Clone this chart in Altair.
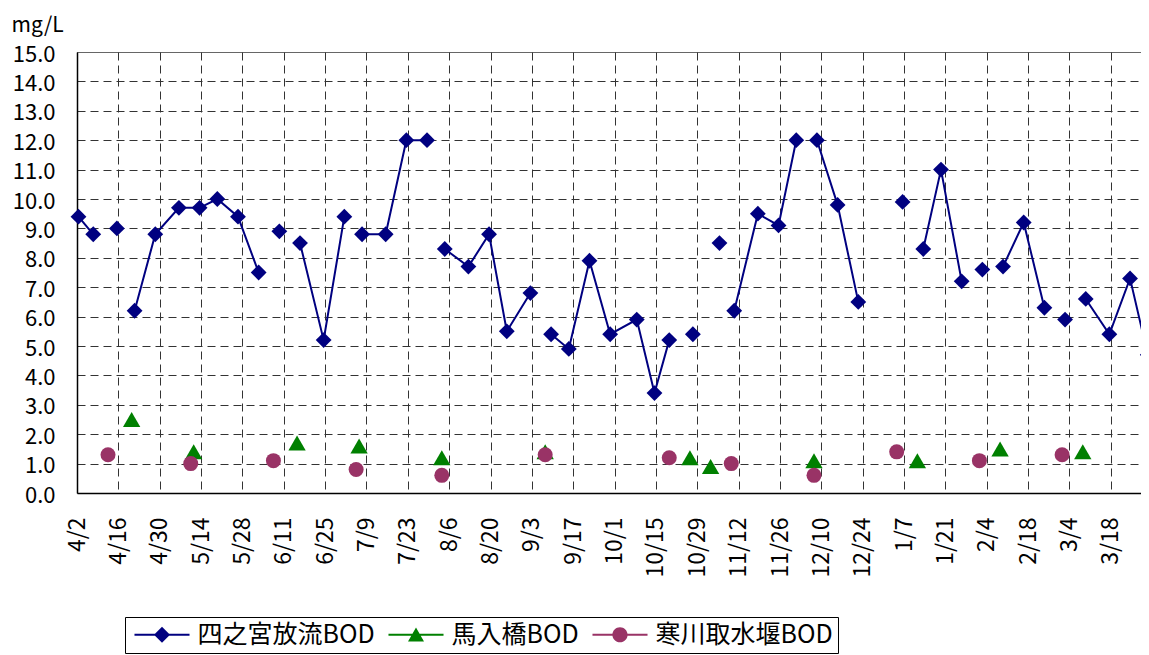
import altair as alt
import pandas as pd

# ---------------- data ----------------
series_names = ["四之宮放流BOD", "馬入橋BOD", "寒川取水堰BOD"]
series_colors = ["#000080", "#008000", "#993366"]

# None = no 四之宮 measurement on that row (line breaks there)
shinomiya_dates = ["4/2", "4/7", "4/12", "4/15", "4/20", "4/21", "4/28", "5/6", "5/13", "5/19",
                   "5/26", "6/2", "6/7", "6/9", "6/15", "6/16", "6/24", "7/1", "7/5", "7/7",
                   "7/15", "7/22", "7/29", "8/3", "8/4", "8/12", "8/19", "8/25", "9/2", "9/7",
                   "9/9", "9/15", "9/22", "9/29", "10/8", "10/14", "10/19", "10/26", "10/27", "11/2",
                   "11/5", "11/9", "11/10", "11/18", "11/25", "12/1", "12/7", "12/8", "12/15", "12/22",
                   "1/4", "1/6", "1/11", "1/13", "1/19", "1/26", "2/1", "2/2", "2/8", "2/9",
                   "2/16", "2/23", "3/1", "3/2", "3/8", "3/9", "3/17", "3/24", "3/30"]
shinomiya_values = [9.4, 8.8, None, 9.0, None, 6.2, 8.8, 9.7, 9.7, 10.0,
                    9.4, 7.5, None, 8.9, None, 8.5, 5.2, 9.4, None, 8.8,
                    8.8, 12.0, 12.0, None, 8.3, 7.7, 8.8, 5.5, 6.8, None,
                    5.4, 4.9, 7.9, 5.4, 5.9, 3.4, 5.2, None, 5.4, None,
                    8.5, None, 6.2, 9.5, 9.1, 12.0, None, 12.0, 9.8, 6.5,
                    None, 9.9, None, 8.3, 11.0, 7.2, None, 7.6, None, 7.7,
                    9.2, 6.3, None, 5.9, None, 6.6, 5.4, 7.3, 4.7]

umairi_dates = ["4/20", "5/11", "6/15", "7/6", "8/3", "9/7", "10/26", "11/2", "12/7", "1/11", "2/8", "3/8"]
umairi_values = [2.5, 1.4, 1.7, 1.6, 1.2, 1.4, 1.2, 0.9, 1.1, 1.1, 1.5, 1.4]

samukawa_dates = ["4/12", "5/10", "6/7", "7/5", "8/3", "9/7", "10/19", "11/9", "12/7", "1/4", "2/1", "3/1"]
samukawa_values = [1.3, 1.0, 1.1, 0.8, 0.6, 1.3, 1.2, 1.0, 0.6, 1.4, 1.1, 1.3]

tick_labels = ["4/2", "4/16", "4/30", "5/14", "5/28", "6/11", "6/25", "7/9", "7/23", "8/6",
               "8/20", "9/3", "9/17", "10/1", "10/15", "10/29", "11/12", "11/26", "12/10", "12/24",
               "1/7", "1/21", "2/4", "2/18", "3/4", "3/18"]
y_ticks = [float(v) for v in range(0, 16)]


def ymd(md):
    m, d = (int(s) for s in md.split("/"))
    return (2009 if m >= 4 else 2010), m, d


def iso(md):
    y, m, d = ymd(md)
    return f"{y:04d}-{m:02d}-{d:02d}T12:00:00"


# ---------------- frames ----------------
shin = pd.DataFrame({"date": [iso(d) for d in shinomiya_dates], "value": shinomiya_values})
shin["seg"] = shin["value"].isna().cumsum()
shin = shin.dropna().copy()
shin["series"] = series_names[0]
uma = pd.DataFrame({"date": [iso(d) for d in umairi_dates], "value": umairi_values, "series": series_names[1]})
sam = pd.DataFrame({"date": [iso(d) for d in samukawa_dates], "value": samukawa_values, "series": series_names[2]})
all_df = pd.concat([shin[["date", "value", "series"]], uma, sam], ignore_index=True)

FONT = "Noto Sans CJK JP"

tick_dt = [alt.DateTime(year=ymd(t)[0], month=ymd(t)[1], date=ymd(t)[2]) for t in tick_labels]

x_enc = alt.X(
    "date:T",
    scale=alt.Scale(domain=[alt.DateTime(year=2009, month=4, date=2),
                            alt.DateTime(year=2010, month=3, date=28, hours=5)], nice=False),
    axis=alt.Axis(values=tick_dt,
                  labelExpr="(month(datum.value)+1) + '/' + date(datum.value)",
                  labelAngle=270, labelAlign="right", labelBaseline="middle",
                  labelFont=FONT, labelFontSize=23, labelColor="#000", labelPadding=24,
                  labelFlush=False, labelOverlap=False, labelBound=False,
                  ticks=False, domain=True, domainColor="#000", domainWidth=1.5,
                  grid=True, gridColor="#333", gridDash=[8, 5], gridWidth=1),
    title=None,
)
y_enc = alt.Y(
    "value:Q",
    scale=alt.Scale(domain=[0, 15], nice=False, zero=True),
    axis=alt.Axis(values=y_ticks, format=".1f",
                  labelFont=FONT, labelFontSize=22, labelColor="#000", labelPadding=22,
                  labelBaseline="middle", labelOffset=2,
                  ticks=False, domain=True, domainColor="#000", domainWidth=1.5,
                  grid=True, gridColor="#333", gridWidth=1,
                  gridDash={"condition": {"test": "datum.value >= 15", "value": [1, 0]}, "value": [8, 5]},
                  title="mg/L", titleAngle=0, titleAlign="left", titleBaseline="top",
                  titleX=-66, titleY=-38, titleFont=FONT, titleFontSize=21,
                  titleFontWeight="normal", titleColor="#000"),
    title="mg/L",
)

line = alt.Chart(shin).mark_line(color=series_colors[0], strokeWidth=2).encode(
    x=x_enc, y=y_enc, detail="seg:N")

p_shin = alt.Chart(shin).mark_point(shape="diamond", filled=True, size=250, opacity=1,
                                     color=series_colors[0]).encode(x=x_enc, y=y_enc)
p_uma = alt.Chart(uma).mark_point(shape="triangle-up", filled=True, size=300, opacity=1,
                                   color=series_colors[1]).encode(x=x_enc, y=y_enc)
p_sam = alt.Chart(sam).mark_point(shape="circle", filled=True, size=225, opacity=1,
                                   color=series_colors[2]).encode(x=x_enc, y=y_enc)

L, T = 3.44, 0.125
bar = f"M-{L},-{T}H{L}V{T}H-{L}Z"
legend_paths = [
    bar + "M-1,0L0,-1L1,0L0,1Z",
    bar + "M0,-0.9L1,0.85L-1,0.85Z",
    bar + "M-0.95,0A0.95,0.95 0 1,1 0.95,0A0.95,0.95 0 1,1 -0.95,0Z",
]

leg = dict(title=None, orient="none", legendX=48, legendY=565, direction="horizontal",
           columns=3, symbolSize=256, symbolOffset=19.5, labelOffset=23,
           symbolStrokeWidth=0, labelFont=FONT, labelFontSize=25, labelColor="#000",
           labelLimit=0, strokeColor="#000", fillColor="#fff", padding=5, columnPadding=9)

legend_layer = alt.Chart(all_df).transform_filter("datum.value < 0").mark_point(
    filled=True, opacity=1, size=256).encode(
    x=x_enc, y=y_enc,
    color=alt.Color("series:N", scale=alt.Scale(domain=series_names, range=series_colors),
                    legend=alt.Legend(**leg)),
    shape=alt.Shape("series:N", scale=alt.Scale(domain=series_names, range=legend_paths),
                    legend=alt.Legend(**leg)),
)

chart = alt.layer(line, p_shin, p_uma, p_sam, legend_layer).properties(
    width=1064, height=441,
    autosize=alt.AutoSizeParams(type="none"),
    padding={"left": 69, "top": 44, "right": 0, "bottom": 162},
).configure_view(stroke=None)

chart.save("out.html", embed_options={"renderer": "svg", "actions": False})
